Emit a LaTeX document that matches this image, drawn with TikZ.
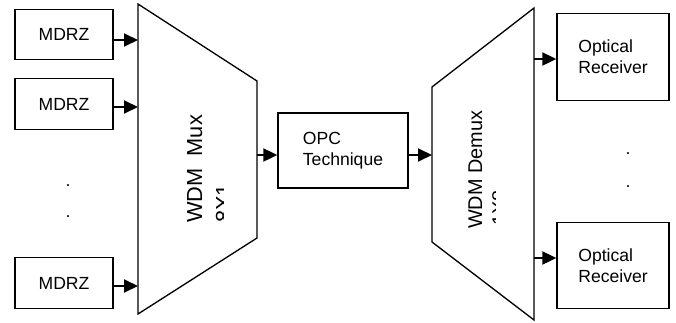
\documentclass[tikz,border=0pt]{standalone}
\usepackage{fontspec}
\setmainfont{Liberation Sans}
\usetikzlibrary{arrows.meta}
\usetikzlibrary{positioning}

\begin{document}
\begin{tikzpicture}[x=0.2mm, y=-0.2mm, font=\fontsize{10}{12}\selectfont,
        txbox/.style={draw, rectangle, line width=0.75pt, minimum width=19.6mm, minimum height=10.1mm},
        rxbox/.style={draw, rectangle, line width=0.75pt, minimum width=22.4mm, minimum height=17.3mm, align=left},
        sig/.style={-{Triangle[length=2.8mm, width=2.6mm]}, line width=1.1pt},
        edge/.style={line width=0.75pt, line join=miter}]
            \useasboundingbox (0,0) rectangle (676,322);

            % transmitters
            \node[txbox] (mdrz1) at (64,34.5) {MDRZ};
            \node[txbox] (mdrz2) at (64,104) {MDRZ};
            \node[txbox] (mdrz3) at (64,283) {MDRZ};
            \node (dotA) at (68,186) {.};
            \node (dotB) at (68,217) {.};

            % mux
            \draw[edge] (138,4) coordinate (muxtl) -- (257,81) -- (257,238) -- (138,314) -- cycle;
            \node[rotate=90, anchor=base west, font=\fontsize{12.4}{14}\selectfont] (muxlbl) at (202,229) {WDM~~Mux};
            \begin{scope}
                \clip (200,0) rectangle (223,322);
                \node[rotate=90, anchor=base west, font=\fontsize{12.4}{14}\selectfont] (muxsub) at (231,229) {8X1};
            \end{scope}
            \coordinate (in1) at (138,40);
            \coordinate (in2) at (138,107);
            \coordinate (in3) at (138,286);
            \coordinate (muxout) at (257,155);

            % opc
            \node[draw, rectangle, line width=0.75pt, minimum width=26mm, minimum height=15mm, align=left] (opc) at (343,150.5) {OPC\\Technique};

            % demux
            \draw[edge] (432,87) coordinate (dmxl) -- (534,8) -- (534,320) -- (432,242) -- cycle;
            \node[rotate=90, anchor=base west, font=\fontsize{11.3}{13}\selectfont] (dmxlbl) at (482,235) {WDM Demux};
            \begin{scope}
                \clip (485,0) rectangle (495.5,322);
                \node[rotate=90, anchor=base west, font=\fontsize{11.3}{13}\selectfont] (dmxsub) at (506,232) {1X8};
            \end{scope}
            \coordinate (dmxin) at (432,155);
            \coordinate (out1) at (534,59);
            \coordinate (out2) at (534,258);

            % receivers
            \node[rxbox] (rx1) at (613,57) {Optical\\Receiver};
            \node[rxbox] (rx2) at (613,265.5) {Optical\\Receiver};
            \node (dotC) at (628,154) {.};
            \node (dotD) at (628,187) {.};

            \draw[sig] (mdrz1.east |- in1) -- (in1);
            \draw[sig] (mdrz2.east |- in2) -- (in2);
            \draw[sig] (mdrz3.east |- in3) -- (in3);
            \draw[sig] (muxout) -- (muxout -| opc.west);
            \draw[sig] (opc.east |- dmxin) -- (dmxin);
            \draw[sig] (out1) -- (out1 -| rx1.west);
            \draw[sig] (out2) -- (out2 -| rx2.west);
        \end{tikzpicture}
\end{document}
